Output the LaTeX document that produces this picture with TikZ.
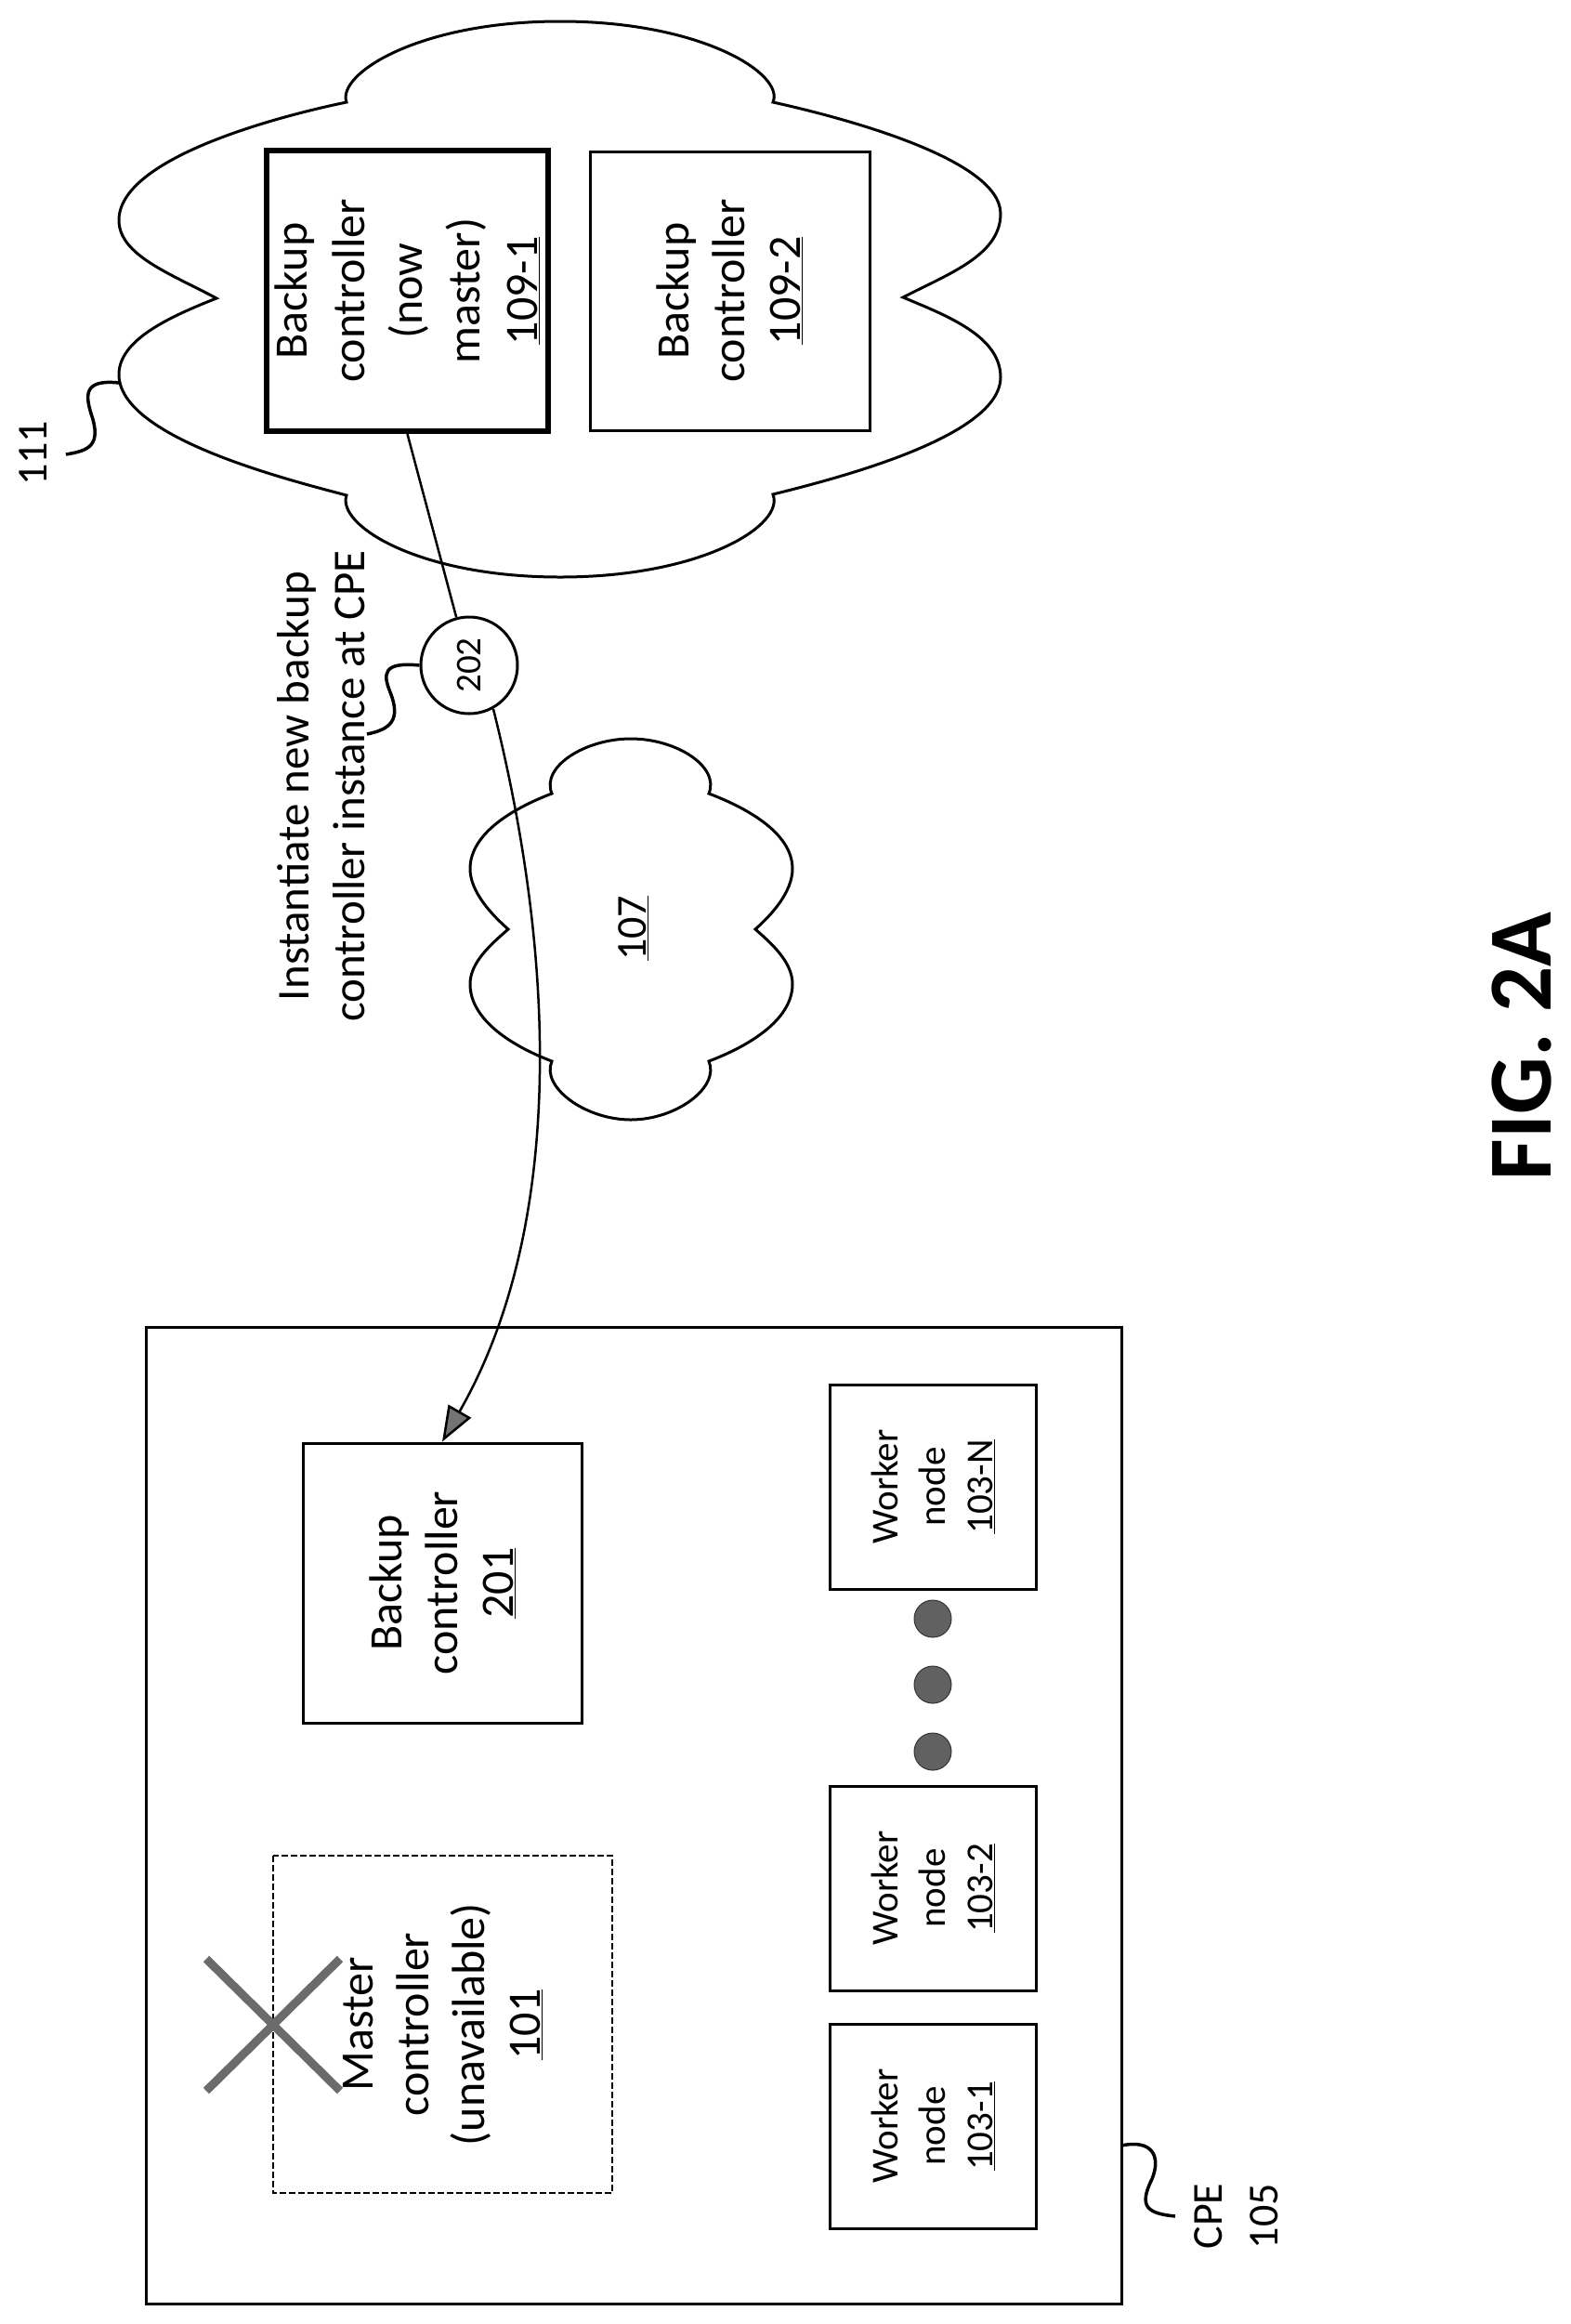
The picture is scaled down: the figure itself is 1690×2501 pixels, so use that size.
\documentclass[tikz,border=0pt]{standalone}
\usepackage{fontspec}
\setmainfont{Carlito}
\usetikzlibrary{arrows.meta}
\tikzset{
    boxline/.style={draw=black,line width=3pt},
    ctrlbox/.style={boxline,rectangle,inner sep=0pt,align=center,rotate=90,font=\fontsize{50}{60}\selectfont},
    workerbox/.style={ctrlbox,minimum width=220pt,minimum height=222pt,font=\fontsize{41}{51}\selectfont},
    labeltext/.style={rotate=90,inner sep=0pt,align=center,font=\fontsize{46}{60}\selectfont},
    leadline/.style={draw=black,line width=3.5pt},
    flowline/.style={draw=black,line width=2.5pt},
    graydot/.style={circle,fill=black!62,draw=black!80,line width=1pt,minimum size=40pt,inner sep=0pt}
}
\begin{document}
\begin{tikzpicture}[x=1pt,y=-1pt]
            \useasboundingbox (0,0) rectangle (1690,2501);
            % clouds
            \draw[boxline] (373,110) .. controls (362,80) and (450,23) .. (603,23)
                .. controls (756,23) and (845,80) .. (832,110)
                .. controls (900,125) and (1077,170) .. (1077,230)
                .. controls (1077,275) and (1020,295) .. (972,320)
                .. controls (1020,340) and (1077,362) .. (1077,406)
                .. controls (1077,470) and (900,515) .. (832,532)
                .. controls (845,565) and (756,621) .. (603,621)
                .. controls (450,621) and (362,565) .. (373,533)
                .. controls (305,515) and (128,470) .. (128,403)
                .. controls (128,365) and (185,340) .. (233,321)
                .. controls (185,295) and (128,275) .. (128,237)
                .. controls (128,170) and (300,125) .. (373,110) -- cycle;
            \draw[boxline] (594,854) .. controls (582,825) and (630,795) .. (679,795)
                .. controls (728,795) and (775,825) .. (763,854)
                .. controls (800,868) and (853,895) .. (853,935)
                .. controls (853,960) and (830,985) .. (813,1000)
                .. controls (830,1015) and (853,1035) .. (853,1059)
                .. controls (853,1100) and (800,1128) .. (763,1142)
                .. controls (775,1170) and (728,1205) .. (679,1205)
                .. controls (630,1205) and (582,1170) .. (594,1142)
                .. controls (557,1128) and (506,1100) .. (506,1059)
                .. controls (506,1035) and (530,1015) .. (547,1000)
                .. controls (530,985) and (506,960) .. (506,935)
                .. controls (506,895) and (557,868) .. (594,854) -- cycle;
            \node[rotate=90,inner sep=0pt,font=\fontsize{46}{56}\selectfont] (net107) at (682,999) {\underline{107}};

            % boxes in the upper cloud
            \node[ctrlbox,line width=6pt,minimum width=302pt,minimum height=303pt,font=\fontsize{50}{62}\selectfont] (bk1) at (438.5,313) {Backup\\controller\\(now\\master)\\\underline{109-1}};
            \node[ctrlbox,minimum width=300pt,minimum height=301pt] (bk2) at (785.5,313) {Backup\\controller\\\underline{109-2}};

            % customer premises
            \node[boxline,rectangle,inner sep=0pt,minimum width=1050pt,minimum height=1051pt] (cpe) at (682,1953.5) {};
            \node[ctrlbox,minimum width=301pt,minimum height=300pt] (bk201) at (476,1703.5) {Backup\\controller\\\underline{201}};
            \node[ctrlbox,dash pattern=on 7pt off 3pt,line width=2.5pt,minimum width=363pt,minimum height=365pt] (master) at (476.5,2178.5) {Master\\controller\\(unavailable)\\\underline{101}};
            \draw[line width=9pt,black!58] (222,2108) -- (366,2250);
            \draw[line width=9pt,black!58] (366,2108) -- (222,2250);
            \foreach \n/\y in {1/2288,2/2032,N/1600}
            {
                \node[workerbox] (worker\n) at (1004,\y) {Worker\\node\\\underline{103-\n}};
            }
            \foreach \y in {1742,1813,1885}
            {
                \node[graydot] (dot\y) at (1004,\y) {};
            }

            % flow through 202
            \node[boxline,circle,rotate=90,inner sep=0pt,minimum size=104pt,font=\fontsize{39}{48}\selectfont] (step202) at (505,716) {202};
            \draw[flowline] (bk1.west) -- (step202);
            % anchors of step202 turn with the node
            \draw[flowline,-{Triangle[length=38pt,width=28pt,fill=black!55]}] (step202.-151) .. controls (603,1050) and (603,1330) .. (bk201.east);

            % labels and their leads
            \node[labeltext] (lab111) at (36,488) {111};
            \coordinate (tag111) at (128,412);
            \coordinate (end111) at (71,489);
            \draw[leadline] (tag111) .. controls (90,408) and (92,425) .. (98,445) .. controls (110,480) and (95,485) .. (end111);

            \node[labeltext,font=\fontsize{49}{60}\selectfont] (lab202) at (346,846) {Instantiate new backup\\controller instance at CPE};
            \coordinate (end202) at (395,790);
            \draw[leadline] (step202.north) .. controls (412,712) and (412,725) .. (420,745) .. controls (432,775) and (420,785) .. (end202);

            \node[labeltext] (labcpe) at (1331,2385) {CPE\\105};
            \coordinate (tagcpe) at (1207,2309);
            \coordinate (endcpe) at (1265,2385);
            \draw[leadline] (tagcpe) .. controls (1240,2302) and (1250,2320) .. (1240,2345) .. controls (1225,2375) and (1235,2382) .. (endcpe);

            \node[rotate=90,inner sep=0pt,font=\bfseries\fontsize{97}{110}\selectfont] (figlabel) at (1638,1126) {FIG. 2A};
\end{tikzpicture}
\end{document}
